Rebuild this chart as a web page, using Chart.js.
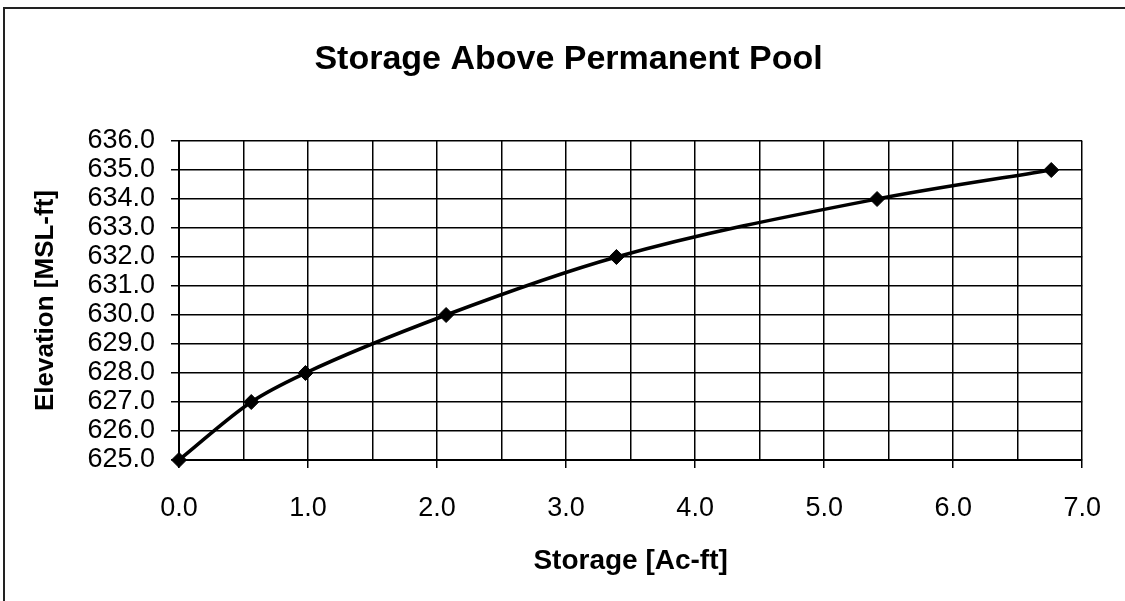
<!DOCTYPE html>
<html>
<head>
<meta charset="utf-8">
<script src="https://cdn.jsdelivr.net/npm/chart.js@4/dist/chart.umd.min.js"></script>
<style>
  html, body { margin: 0; padding: 0; background: #fff; }
  #wrap { position: relative; width: 1125px; height: 601px; overflow: hidden; }
  #frame { position: absolute; left: 3px; top: 7px; width: 1140px; height: 620px; border-top: 2px solid #222; border-left: 2px solid #222; pointer-events: none; }
  canvas { position: absolute; left: 0; top: 0; }
</style>
</head>
<body>
<div id="wrap">
  <canvas id="c" width="1125" height="601"></canvas>
  <div id="frame"></div>
</div>
<script>
const chartTitle = 'Storage Above Permanent Pool';
const xTitle = 'Storage [Ac-ft]';
const yTitle = 'Elevation [MSL-ft]';
const storage = [0, 0.56, 0.98, 2.07, 3.39, 5.41, 6.76];
const elevation = [625, 627, 628, 630, 632, 634, 635];
const xMin = 0, xMax = 7, xGridStep = 0.5;
const yMin = 625, yMax = 636, yStep = 1;

const points = storage.map((s, i) => ({ x: s, y: elevation[i] }));
const FONT = 'Liberation Sans, Arial, sans-serif';
const isWhole = (v) => Math.abs(v - Math.round(v)) < 1e-9;

new Chart(document.getElementById('c'), {
  type: 'line',
  data: {
    datasets: [{
      data: points,
      borderColor: '#000',
      borderWidth: 3.5,
      backgroundColor: '#000',
      pointStyle: 'rectRot',
      pointRadius: 7.5,
      pointBorderWidth: 1,
      pointBorderColor: '#000',
      pointBackgroundColor: '#000',
      cubicInterpolationMode: 'monotone',
      fill: false,
      clip: false
    }]
  },
  options: {
    responsive: false,
    animation: false,
    devicePixelRatio: 1,
    layout: { padding: { left: 50, right: 38, top: 0, bottom: 0 } },
    plugins: {
      legend: { display: false },
      tooltip: { enabled: false },
      title: {
        display: true,
        text: chartTitle,
        color: '#000',
        font: { family: FONT, size: 34, weight: 'bold', lineHeight: 1.2 },
        padding: { top: 39, bottom: 61.2 }
      }
    },
    scales: {
      x: {
        type: 'linear',
        min: xMin, max: xMax,
        afterFit: (s) => { s.height = 141; },
        ticks: {
          stepSize: xGridStep,
          autoSkip: false,
          maxRotation: 0,
          color: '#000',
          padding: 24,
          font: { family: FONT, size: 27 },
          callback: (v) => (isWhole(v) ? Number(v).toFixed(1) : '')
        },
        grid: {
          color: '#000',
          lineWidth: 1.5,
          tickLength: 8,
          tickColor: (ctx) => (ctx.tick && isWhole(ctx.tick.value) ? '#000' : 'rgba(0,0,0,0)')
        },
        border: { color: '#000', width: 2 },
        title: {
          display: true,
          text: xTitle,
          color: '#000',
          font: { family: FONT, size: 28, weight: 'bold', lineHeight: 1.2 },
          padding: { top: 0, bottom: 23 }
        }
      },
      y: {
        type: 'linear',
        min: yMin, max: yMax,
        afterFit: (s) => { s.width = 129; },
        ticks: {
          stepSize: yStep,
          autoSkip: false,
          color: '#000',
          padding: 16,
          font: { family: FONT, size: 27 },
          callback: (v) => Number(v).toFixed(1)
        },
        grid: { color: '#000', lineWidth: 1.5, tickLength: 8 },
        border: { color: '#000', width: 2 },
        title: {
          display: true,
          text: yTitle,
          color: '#000',
          font: { family: FONT, size: 26, weight: 'bold', lineHeight: 1.2 },
          padding: { top: -20, bottom: 0 }
        }
      }
    }
  }
});
</script>
</body>
</html>
